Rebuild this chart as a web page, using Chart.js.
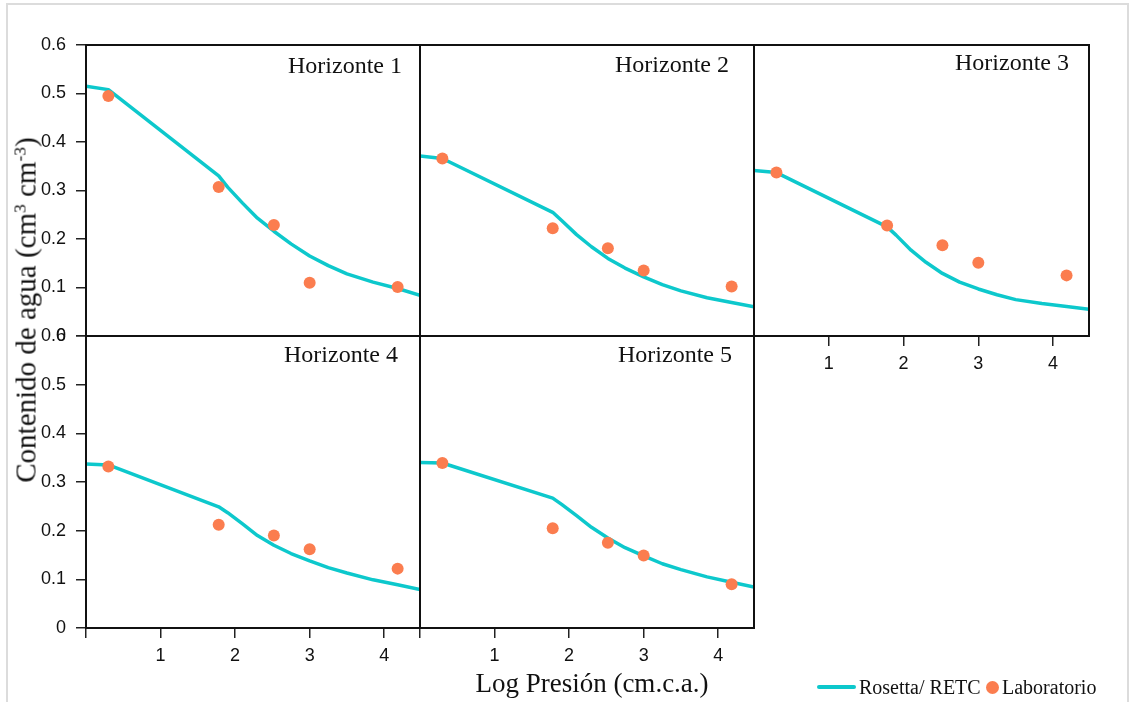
<!DOCTYPE html>
<html>
<head>
<meta charset="utf-8">
<script src="https://cdn.jsdelivr.net/npm/chart.js@4.4.1/dist/chart.umd.min.js"></script>
<style>
  html, body { margin: 0; padding: 0; background: #fff; }
  body { width: 1131px; height: 702px; position: relative; overflow: hidden; }
  .frame { position: absolute; left: 6px; top: 3px; width: 1119px; height: 760px; border: 2px solid #dcdcdc; border-bottom: none; }
  .panel { position: absolute; }
  .serif { font-family: "Liberation Serif", "Times New Roman", serif; color: #111; white-space: nowrap; position: absolute; }
  .xtitle { font-size: 27px; line-height: 27px; left: 592px; top: 670px; transform: translateX(-50%); }
  .ytitle { font-size: 29px; line-height: 29px; left: 26px; top: 310px; transform: translate(-50%, -50%) rotate(-90deg); }
  .ytitle sup { font-size: 0.6em; vertical-align: 0.6em; line-height: 0; }
  .lg-line { position: absolute; left: 817px; top: 685px; width: 39px; height: 4px; border-radius: 2px; }
  .lg-dot { position: absolute; left: 986px; top: 681px; width: 13px; height: 13px; border-radius: 50%; }
  .lg-text { font-size: 20px; line-height: 20px; top: 677px; }
</style>
</head>
<body>
<div class="frame"></div>
<div id="panels"></div>
<div class="serif xtitle" id="xtitle"></div>
<div class="serif ytitle" id="ytitle"></div>
<div class="lg-line" id="lgLine"></div>
<div class="serif lg-text" id="lgText1" style="left:859px"></div>
<div class="lg-dot" id="lgDot"></div>
<div class="serif lg-text" id="lgText2" style="left:1002px"></div>

<script>
// ---------------- DATA ----------------
const panelNames = ['Horizonte 1', 'Horizonte 2', 'Horizonte 3', 'Horizonte 4', 'Horizonte 5'];
const seriesNames = ['Rosetta/ RETC', 'Laboratorio'];

// Rosetta / RETC curve (Log presión vs contenido de agua)
const curveX   = [0,     0.3,   1.78,  1.9,   2.1,   2.3,   2.52,  2.75,  3.0,   3.25,  3.5,   3.85,  4.18,  4.48];
const rosetta1 = [0.515, 0.508, 0.330, 0.307, 0.274, 0.243, 0.216, 0.190, 0.165, 0.145, 0.128, 0.111, 0.098, 0.084];
const rosetta2 = [0.371, 0.366, 0.255, 0.238, 0.209, 0.184, 0.160, 0.140, 0.122, 0.106, 0.093, 0.079, 0.069, 0.060];
const rosetta3 = [0.341, 0.337, 0.225, 0.208, 0.177, 0.152, 0.129, 0.111, 0.097, 0.085, 0.075, 0.067, 0.061, 0.055];
const rosetta4 = [0.337, 0.335, 0.249, 0.237, 0.214, 0.190, 0.170, 0.153, 0.138, 0.124, 0.113, 0.099, 0.089, 0.079];
const rosetta5 = [0.340, 0.339, 0.267, 0.254, 0.231, 0.207, 0.185, 0.165, 0.148, 0.132, 0.120, 0.105, 0.094, 0.084];

// Laboratorio points
const labX = [0.3,   1.78,  2.52,  3.0,   4.18];
const lab1 = [0.495, 0.307, 0.229, 0.110, 0.101];
const lab2 = [0.366, 0.222, 0.181, 0.135, 0.102];
const lab3 = [0.337, 0.228, 0.187, 0.151, 0.125];
const lab4 = [0.332, 0.212, 0.190, 0.162, 0.122];
const lab5 = [0.339, 0.205, 0.175, 0.149, 0.090];

// Ticks
const xTickValues = [0, 1, 2, 3, 4];
const xTickLabels = ['', '1', '2', '3', '4'];
const yTickValues = [0, 0.1, 0.2, 0.3, 0.4, 0.5, 0.6];
const yTickLabels = ['0', '0.1', '0.2', '0.3', '0.4', '0.5', '0.6'];

const xTitle = 'Log Presión (cm.c.a.)';
const yTitleHTML = 'Contenido de agua (cm<sup>3</sup> cm<sup>-3</sup>)';

// ---------------- STYLE / LAYOUT ----------------
const CURVE_COLOR = '#0dc8cc';
const DOT_COLOR = '#fb7d4f';
const X_MAX = 4.48;
const M = { l: 90, t: 16, r: 16, b: 50 };

const panels = [
  { name: panelNames[0], rosetta: rosetta1, lab: lab1, left: 86,  top: 45,  w: 334, h: 291, yAxis: true,  xAxis: false, dx: 18, dy: 28 },
  { name: panelNames[1], rosetta: rosetta2, lab: lab2, left: 420, top: 45,  w: 334, h: 291, yAxis: false, xAxis: false, dx: 25, dy: 27 },
  { name: panelNames[2], rosetta: rosetta3, lab: lab3, left: 754, top: 45,  w: 335, h: 291, yAxis: false, xAxis: true,  dx: 20, dy: 25 },
  { name: panelNames[3], rosetta: rosetta4, lab: lab4, left: 86,  top: 336, w: 334, h: 292, yAxis: true,  xAxis: true,  dx: 22, dy: 26 },
  { name: panelNames[4], rosetta: rosetta5, lab: lab5, left: 420, top: 336, w: 334, h: 292, yAxis: false, xAxis: true,  dx: 22, dy: 26 }
];

const framePlugin = {
  id: 'panelFrame',
  afterDraw(chart, args, opts) {
    const { ctx, chartArea: a } = chart;
    ctx.save();
    ctx.strokeStyle = '#111';
    ctx.lineWidth = 2;
    ctx.strokeRect(a.left, a.top, a.right - a.left, a.bottom - a.top);
    ctx.font = '24px "Liberation Serif"';
    ctx.fillStyle = '#111';
    ctx.textAlign = 'right';
    ctx.textBaseline = 'alphabetic';
    ctx.fillText(opts.name, a.right - opts.dx, a.top + opts.dy);
    ctx.restore();
  }
};

const holder = document.getElementById('panels');
panels.forEach((p) => {
  const div = document.createElement('div');
  div.className = 'panel';
  div.style.left = (p.left - M.l) + 'px';
  div.style.top = (p.top - M.t) + 'px';
  div.style.width = (p.w + M.l + M.r) + 'px';
  div.style.height = (p.h + M.t + M.b) + 'px';
  const cv = document.createElement('canvas');
  div.appendChild(cv);
  holder.appendChild(div);

  new Chart(cv, {
    type: 'scatter',
    data: {
      datasets: [
        {
          label: seriesNames[1],
          data: labX.map((x, i) => ({ x: x, y: p.lab[i] })),
          backgroundColor: DOT_COLOR,
          borderWidth: 0,
          pointRadius: 6,
          pointHoverRadius: 6,
          order: 1
        },
        {
          label: seriesNames[0],
          data: curveX.map((x, i) => ({ x: x, y: p.rosetta[i] })),
          showLine: true,
          borderColor: CURVE_COLOR,
          borderWidth: 3.5,
          borderJoinStyle: 'round',
          pointRadius: 0,
          pointHoverRadius: 0,
          tension: 0,
          fill: false,
          order: 2
        }
      ]
    },
    options: {
      responsive: true,
      maintainAspectRatio: false,
      animation: false,
      devicePixelRatio: 1,
      layout: { padding: { top: M.t, right: M.r, left: 0, bottom: 0 } },
      plugins: {
        legend: { display: false },
        tooltip: { enabled: false },
        panelFrame: { name: p.name, dx: p.dx, dy: p.dy }
      },
      scales: {
        x: {
          type: 'linear',
          min: 0,
          max: X_MAX,
          afterBuildTicks: s => { s.ticks = xTickValues.map(v => ({ value: v })); },
          afterFit: s => { s.height = M.b; s.paddingLeft = 0; s.paddingRight = 0; },
          ticks: {
            display: p.xAxis,
            autoSkip: false,
            maxRotation: 0,
            padding: 7,
            color: '#111',
            font: { family: '"Liberation Sans", Arial, sans-serif', size: 18 },
            callback: (v, i) => xTickLabels[i]
          },
          grid: { display: p.xAxis, drawOnChartArea: false, drawTicks: true, tickLength: 10, color: '#222', lineWidth: 1.5 },
          border: { display: false }
        },
        y: {
          type: 'linear',
          min: 0,
          max: 0.6,
          afterBuildTicks: s => { s.ticks = yTickValues.map(v => ({ value: v })); },
          afterFit: s => { s.width = M.l; s.paddingTop = 0; s.paddingBottom = 0; },
          ticks: {
            display: p.yAxis,
            autoSkip: false,
            padding: 10,
            color: '#111',
            font: { family: '"Liberation Sans", Arial, sans-serif', size: 18 },
            callback: (v, i) => yTickLabels[i]
          },
          grid: { display: p.yAxis, drawOnChartArea: false, drawTicks: true, tickLength: 10, color: '#222', lineWidth: 1.5 },
          border: { display: false }
        }
      }
    },
    plugins: [framePlugin]
  });
});

document.getElementById('xtitle').textContent = xTitle;
document.getElementById('ytitle').innerHTML = yTitleHTML;
document.getElementById('lgLine').style.background = CURVE_COLOR;
document.getElementById('lgDot').style.background = DOT_COLOR;
document.getElementById('lgText1').textContent = seriesNames[0];
document.getElementById('lgText2').textContent = seriesNames[1];
</script>
</body>
</html>
